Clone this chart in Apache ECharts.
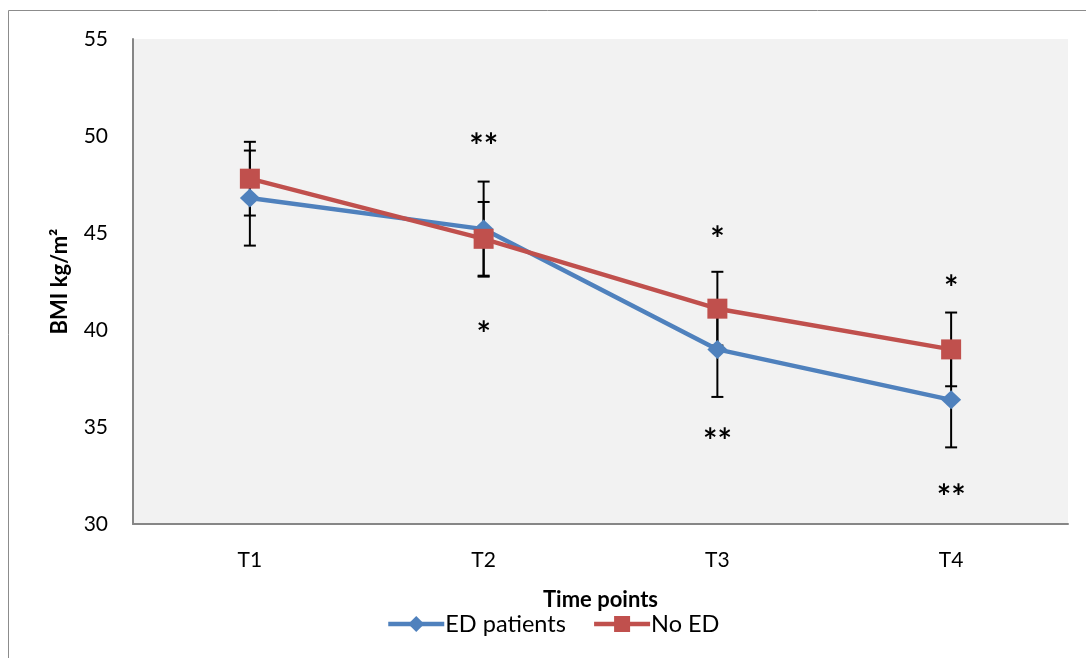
<!DOCTYPE html>
<html>
<head>
<meta charset="utf-8">
<script src="https://cdn.jsdelivr.net/npm/echarts@6/dist/echarts.min.js"></script>
<style>
  html, body { margin: 0; padding: 0; background: #fff; }
  #chart { width: 1086px; height: 658px; }
</style>
</head>
<body>
<div id="chart"></div>
<script>
(function() {

    // 数据
    var timePoints = ['T1', 'T2', 'T3', 'T4'];
    var edPatients = [46.8, 45.2, 39.0, 36.4];
    var edError = [2.45, 2.45, 2.45, 2.45];
    var noEd = [47.8, 44.7, 41.1, 39.0];
    var noEdError = [1.9, 1.9, 1.9, 1.9];

    // 显著性标记 [类别序号, 位置值, 文本]
    var starMarks = [
        [1, 49.9, '**'],
        [1, 40.2, '*'],
        [2, 45.1, '*'],
        [2, 34.7, '**'],
        [3, 42.6, '*'],
        [3, 31.8, '**']
    ];

    var fontName = 'Lato, "Open Sans", sans-serif';

    function buildErrorData(values, errs) {
        var out = [];
        for (var i = 0; i < values.length; i++) {
            out.push([i, values[i] - errs[i], values[i] + errs[i]]);
        }
        return out;
    }

    // 误差线
    function renderError(params, api) {
        var x = api.value(0);
        var low = api.coord([x, api.value(1)]);
        var high = api.coord([x, api.value(2)]);
        var half = 6;
        var style = { stroke: '#000', lineWidth: 2 };
        return {
            type: 'group',
            children: [
                { type: 'line', shape: { x1: low[0], y1: low[1], x2: high[0], y2: high[1] }, style: style },
                { type: 'line', shape: { x1: low[0] - half, y1: low[1], x2: low[0] + half, y2: low[1] }, style: style },
                { type: 'line', shape: { x1: high[0] - half, y1: high[1], x2: high[0] + half, y2: high[1] }, style: style }
            ]
        };
    }

    // 星号 (字体里星号偏上，往下挪一点)
    function renderStar(params, api) {
        var p = api.coord([api.value(0), api.value(1)]);
        return {
            type: 'text',
            x: p[0],
            y: p[1] + 9,
            style: {
                text: starMarks[params.dataIndex][2],
                fill: '#000',
                font: 'bold 34px ' + fontName,
                align: 'center',
                verticalAlign: 'middle'
            }
        };
    }

    var myChart = echarts.init(document.getElementById('chart'));

    var option = {
        animation: false,
        backgroundColor: '#fff',
        textStyle: { fontFamily: fontName },
        graphic: [{
            type: 'rect',
            shape: { x: 8.5, y: 10.5, width: 1100, height: 700 },
            style: { fill: 'none', stroke: '#8c8c8c', lineWidth: 1 },
            silent: true
        }],
        grid: {
            left: 133,
            top: 39,
            right: 18,
            bottom: 134,
            show: true,
            backgroundColor: '#f2f2f2',
            borderWidth: 0
        },
        legend: {
            bottom: 17,
            left: 381,
            itemWidth: 56,
            itemHeight: 20,
            itemGap: 26,
            lineStyle: { width: 4.5 },
            textStyle: { fontSize: 23.5, color: '#000', fontFamily: fontName, padding: [0, 0, 0, -4] },
            data: ['ED patients', 'No ED']
        },
        xAxis: {
            type: 'category',
            data: timePoints,
            name: 'Time points',
            nameLocation: 'middle',
            nameGap: 65,
            nameTextStyle: { fontSize: 22, fontWeight: 'bold', color: '#000' },
            axisLine: { lineStyle: { color: '#868686', width: 2 } },
            axisTick: { show: false },
            axisLabel: { fontSize: 21, color: '#000', margin: 26 }
        },
        yAxis: {
            type: 'value',
            min: 30,
            max: 55,
            interval: 5,
            name: 'BMI kg/m²',
            nameLocation: 'middle',
            nameGap: 62,
            nameTextStyle: { fontSize: 22, fontWeight: 'bold', color: '#000' },
            axisLine: { show: true, lineStyle: { color: '#868686', width: 2 } },
            axisTick: { show: false },
            splitLine: { show: false },
            axisLabel: { fontSize: 21, color: '#000', margin: 25 }
        },
        series: [
            {
                name: 'ED errors',
                type: 'custom',
                renderItem: renderError,
                data: buildErrorData(edPatients, edError),
                z: 1,
                silent: true
            },
            {
                name: 'No ED errors',
                type: 'custom',
                renderItem: renderError,
                data: buildErrorData(noEd, noEdError),
                z: 1,
                silent: true
            },
            {
                name: 'ED patients',
                type: 'line',
                data: edPatients,
                symbol: 'diamond',
                symbolSize: [20, 19],
                lineStyle: { color: '#4f81bd', width: 4.5 },
                itemStyle: { color: '#4f81bd' },
                z: 3
            },
            {
                name: 'No ED',
                type: 'line',
                data: noEd,
                symbol: 'rect',
                symbolSize: 20,
                lineStyle: { color: '#c0504d', width: 4.5 },
                itemStyle: { color: '#c0504d' },
                z: 4
            },
            {
                name: 'stars',
                type: 'custom',
                renderItem: renderStar,
                data: starMarks.map(function(m) { return [m[0], m[1]]; }),
                z: 5,
                silent: true
            }
        ]
    };

    myChart.setOption(option);

})();
</script>
</body>
</html>
